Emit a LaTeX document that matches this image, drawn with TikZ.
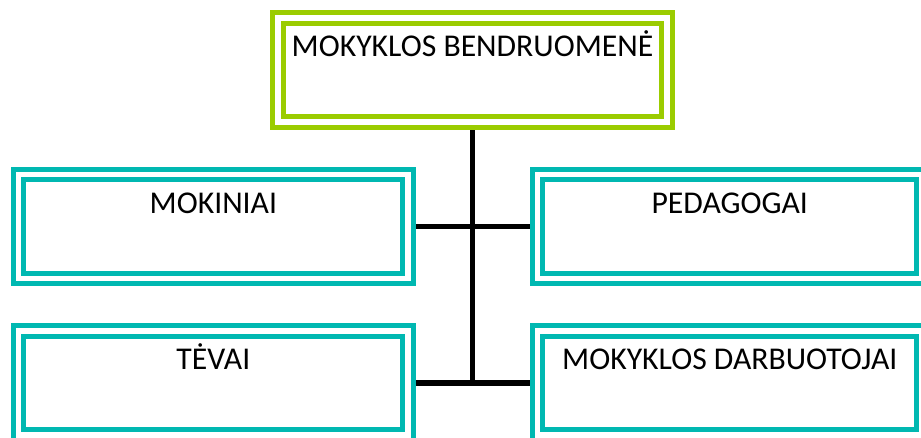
\documentclass[tikz,border=0pt]{standalone}
\usepackage{fontspec}
\setmainfont{Carlito}
\definecolor{boxgreen}{RGB}{155,204,0}
\definecolor{boxteal}{RGB}{0,184,177}
\begin{document}
\begin{tikzpicture}[x=1pt,y=1pt,
  orgbox/.style={rectangle, draw=#1, line width=5pt, double=white,
    double distance=5.5pt, inner xsep=0pt, inner ysep=0pt, outer sep=7.75pt,
    text height=38.5pt, text depth=65.5pt,
    font=\fontsize{31.7}{38}\selectfont, text=black},
  link/.style={draw=black, line width=5.5pt}]
\useasboundingbox (0,0) rectangle (921,-437);
\node[orgbox=boxgreen, double distance=6pt, outer sep=8pt, minimum width=389pt] (top) at (472.5,-70) {MOKYKLOS BENDRUOMENĖ};
\node[orgbox=boxteal, minimum width=389.7pt] (mok) at (213.35,-226.5) {MOKINIAI};
\node[orgbox=boxteal, minimum width=384.5pt] (ped) at (729.75,-226.5) {PEDAGOGAI};
\node[orgbox=boxteal, minimum width=389.7pt] (tev) at (213.35,-382.9) {TĖVAI};
\node[orgbox=boxteal, minimum width=384.5pt] (darb) at (729.75,-382.9) {MOKYKLOS DARBUOTOJAI};
\coordinate (bend) at (top.south |- tev.east);
\draw[link] (top.south) -- (bend);
\draw[link] (mok.east) -- (ped.west);
\draw[link] (tev.east) -- (darb.west);
\end{tikzpicture}
\end{document}
